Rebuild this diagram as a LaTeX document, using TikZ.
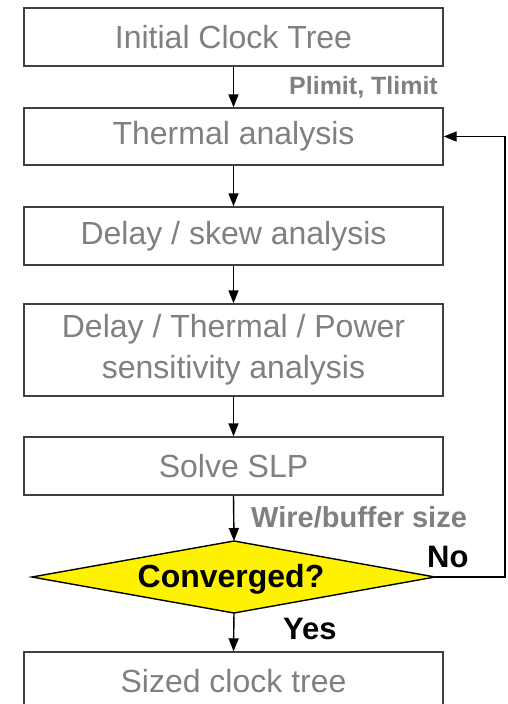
\documentclass[tikz,border=0pt]{standalone}
\usepackage{fontspec}
\setmainfont{Liberation Sans}
\usetikzlibrary{arrows.meta}
\definecolor{txtgray}{HTML}{808080}
\definecolor{boxline}{HTML}{404040}
\tikzset{
  stepbox/.style={draw=boxline, line width=1.4pt, rectangle, inner sep=0pt,
    minimum width=419pt, text=txtgray, align=center,
    font=\fontsize{32}{41}\selectfont},
  decide/.style={draw=black, line width=1.4pt, fill=yellow, line join=miter},
  flow/.style={line width=1.4pt, -{Triangle[width=10pt,length=13pt]}},
  note/.style={text=txtgray, font=\bfseries\fontsize{25}{30}\selectfont, inner sep=0pt},
  answer/.style={text=black, font=\bfseries\fontsize{31}{36}\selectfont, inner sep=0pt}
}
\begin{document}
\begin{tikzpicture}[x=1pt,y=-1pt]
  \useasboundingbox (0,0) rectangle (507,704);
  \clip (0,0) rectangle (507,704);
  \fill[white] (0,0) rectangle (507,704);

  \node[stepbox, minimum height=58pt] (init) at (233.5,37) {Initial Clock Tree};
  \node[stepbox, minimum height=57pt] (therm) at (233.5,136.5) {Thermal analysis};
  \node[stepbox, minimum height=58pt] (skew) at (233.5,236) {Delay / skew analysis};
  \node[stepbox, minimum height=92pt] (sens) at (233.5,350) {Delay / Thermal / Power\\sensitivity analysis};
  \node[stepbox, minimum height=58pt] (slp) at (233.5,466) {Solve SLP};

  % decision diamond, drawn from its four corners
  \coordinate (convN) at (234,541);
  \coordinate (convE) at (435,577);
  \coordinate (convS) at (234,613);
  \coordinate (convW) at (32,577);
  \draw[decide] (convN) -- (convE) -- (convS) -- (convW) -- cycle;
  \node[font=\bfseries\fontsize{32}{38}\selectfont, inner sep=0pt] (conv) at (231,579) {Converged?};

  \node[stepbox, minimum height=58pt] (sized) at (233.5,681) {Sized clock tree};

  \draw[flow] (init) -- (therm);
  \draw[flow] (therm) -- (skew);
  \draw[flow] (skew) -- (sens);
  \draw[flow] (sens) -- (slp);
  \draw[flow] (slp.south) -- (convN);
  \draw[flow] (convS) -- (sized.north);

  \coordinate (loopA) at (505,577);
  \coordinate (loopB) at (505,136.5);
  \draw[flow] (convE) -- (loopA) -- (loopB) -- (therm.east);

  \node[note, anchor=east] (lim) at (438,87) {Plimit, Tlimit};
  \node[note, anchor=west, font=\bfseries\fontsize{29}{33}\selectfont] (wb) at (251,517) {Wire/buffer size};
  \node[answer, anchor=west] (no) at (427,557) {No};
  \node[answer, anchor=west] (yes) at (283,629) {Yes};
\end{tikzpicture}
\end{document}
